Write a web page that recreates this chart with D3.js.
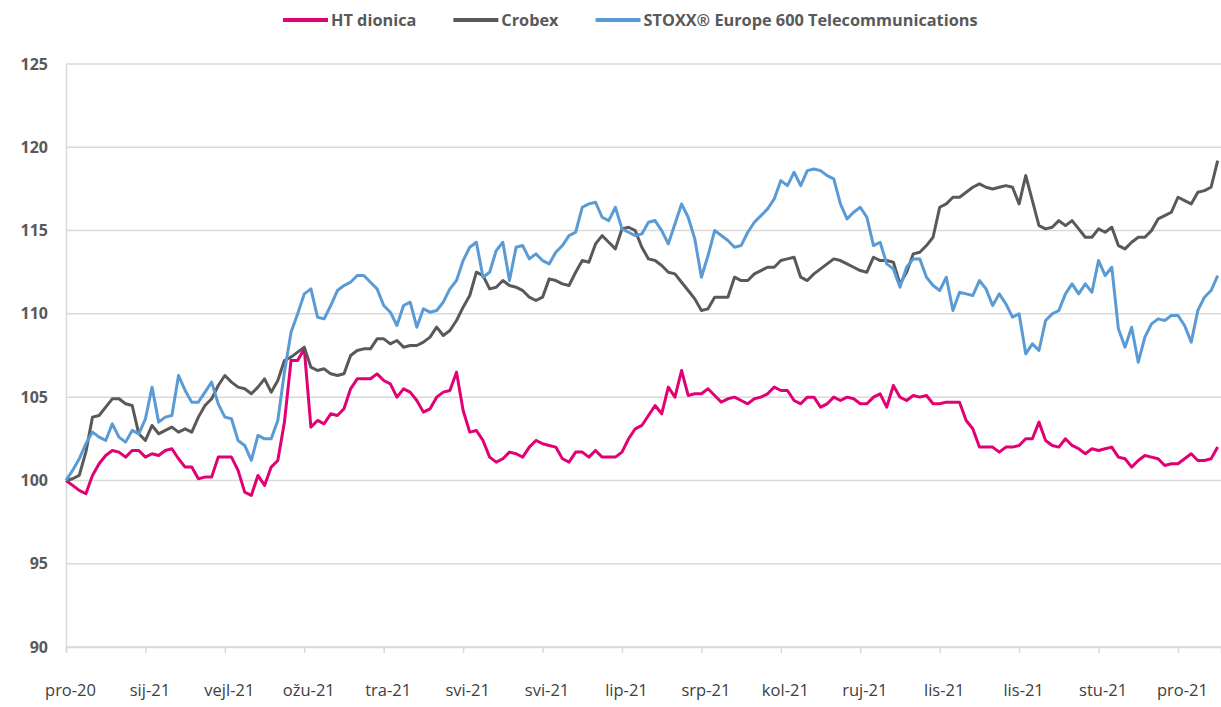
<!DOCTYPE html>
<html>
<head>
<meta charset="utf-8">
<script src="https://cdn.jsdelivr.net/npm/d3@7"></script>
<style>
  body { margin: 0; background: #fff; }
  text { font-family: "Open Sans", "Noto Sans", sans-serif; }
</style>
</head>
<body>
<svg id="chart"></svg>
<script>
// tick labels on the category axis, one every 12 trading points
var monthLabels = ["pro-20", "sij-21", "vejl-21", "ožu-21", "tra-21", "svi-21", "svi-21",
  "lip-21", "srp-21", "kol-21", "ruj-21", "lis-21", "lis-21", "stu-21", "pro-21"];
var yTicks = [90, 95, 100, 105, 110, 115, 120, 125];

var seriesNames = ["HT dionica", "Crobex", "STOXX® Europe 600 Telecommunications"];
var seriesColors = ["#e20074", "#595959", "#5b9bd5"];

var htValues = [
  100.0, 99.7, 99.4, 99.2, 100.3, 101.0, 101.5, 101.8, 101.7, 101.4, 101.8, 101.8, 101.4, 101.6, 101.5,
  101.8, 101.9, 101.3, 100.8, 100.8, 100.1, 100.2, 100.2, 101.4, 101.4, 101.4, 100.6, 99.3, 99.1, 100.3,
  99.7, 100.8, 101.2, 103.5, 107.2, 107.2, 107.9, 103.2, 103.6, 103.4, 104.0, 103.9, 104.3, 105.5, 106.1,
  106.1, 106.1, 106.4, 106.0, 105.8, 105.0, 105.5, 105.3, 104.8, 104.1, 104.3, 105.0, 105.3, 105.4, 106.5,
  104.2, 102.9, 103.0, 102.4, 101.4, 101.1, 101.3, 101.7, 101.6, 101.4, 102.0, 102.4, 102.2, 102.1, 102.0,
  101.3, 101.1, 101.7, 101.7, 101.4, 101.8, 101.4, 101.4, 101.4, 101.7, 102.5, 103.1, 103.3, 103.9,
  104.5, 104.0, 105.6, 105.0, 106.6, 105.1, 105.2, 105.2, 105.5, 105.1, 104.7, 104.9, 105.0, 104.8, 104.6,
  104.9, 105.0, 105.2, 105.6, 105.4, 105.4, 104.8, 104.6, 105.0, 105.0, 104.4, 104.6, 105.0, 104.8, 105.0,
  104.9, 104.6, 104.6, 105.0, 105.2, 104.4, 105.7, 105.0, 104.8, 105.1, 105.0, 105.1, 104.6, 104.6,
  104.7, 104.7, 104.7, 103.6, 103.1, 102.0, 102.0, 102.0, 101.7, 102.0, 102.0, 102.1, 102.5, 102.5, 103.5,
  102.4, 102.1, 102.0, 102.5, 102.1, 101.9, 101.6, 101.9, 101.8, 101.9, 102.0, 101.4, 101.3, 100.8, 101.2,
  101.5, 101.4, 101.3, 100.9, 101.0, 101.0, 101.3, 101.6, 101.2, 101.2, 101.3, 102.0
];

var crobexValues = [
  100.0, 100.1, 100.3, 101.7, 103.8, 103.9, 104.4, 104.9, 104.9, 104.6, 104.5, 102.8, 102.4, 103.3, 102.8,
  103.0, 103.2, 102.9, 103.1, 102.9, 103.8, 104.5, 104.9, 105.7, 106.3, 105.9, 105.6, 105.5, 105.2, 105.6,
  106.1, 105.3, 106.0, 107.2, 107.4, 107.7, 108.0, 106.8, 106.6, 106.7, 106.4, 106.3, 106.4, 107.5, 107.8,
  107.9, 107.9, 108.5, 108.5, 108.2, 108.4, 108.0, 108.1, 108.1, 108.3, 108.6, 109.2, 108.7, 109.0, 109.6,
  110.4, 111.1, 112.5, 112.3, 111.5, 111.6, 112.0, 111.7, 111.6, 111.4, 111.0, 110.8, 111.0, 112.1, 112.0,
  111.8, 111.7, 112.5, 113.2, 113.1, 114.2, 114.7, 114.3, 113.9, 115.1, 115.2, 115.0, 114.0, 113.3,
  113.2, 112.9, 112.5, 112.4, 111.9, 111.4, 110.9, 110.2, 110.3, 111.0, 111.0, 111.0, 112.2, 112.0, 112.0,
  112.4, 112.6, 112.8, 112.8, 113.2, 113.3, 113.4, 112.2, 112.0, 112.4, 112.7, 113.0, 113.3, 113.2, 113.0,
  112.8, 112.6, 112.5, 113.4, 113.2, 113.2, 113.1, 111.8, 112.5, 113.6, 113.7, 114.1, 114.6, 116.4,
  116.6, 117.0, 117.0, 117.3, 117.6, 117.8, 117.6, 117.5, 117.6, 117.7, 117.6, 116.6, 118.3, 116.8, 115.3,
  115.1, 115.2, 115.6, 115.3, 115.6, 115.1, 114.6, 114.6, 115.1, 114.9, 115.2, 114.1, 113.9, 114.3, 114.6,
  114.6, 115.0, 115.7, 115.9, 116.1, 117.0, 116.8, 116.6, 117.3, 117.4, 117.6, 119.2
];

var stoxxValues = [
  100.0, 100.6, 101.3, 102.2, 102.9, 102.6, 102.4, 103.4, 102.6, 102.3, 103.0, 102.8, 103.7, 105.6, 103.5,
  103.8, 103.9, 106.3, 105.4, 104.7, 104.7, 105.3, 105.9, 104.6, 103.8, 103.7, 102.4, 102.1, 101.2, 102.7,
  102.5, 102.5, 103.6, 106.5, 108.9, 110.0, 111.2, 111.5, 109.8, 109.7, 110.5, 111.4, 111.7, 111.9, 112.3,
  112.3, 111.9, 111.5, 110.5, 110.1, 109.3, 110.5, 110.7, 109.2, 110.3, 110.1, 110.2, 110.7, 111.5, 112.0,
  113.2, 114.0, 114.3, 112.2, 112.5, 113.8, 114.3, 112.0, 114.0, 114.1, 113.3, 113.6, 113.2, 113.0, 113.7,
  114.1, 114.7, 114.9, 116.4, 116.6, 116.7, 115.8, 115.6, 116.4, 115.1, 114.9, 114.7, 114.8, 115.5,
  115.6, 115.0, 114.2, 115.4, 116.6, 115.8, 114.5, 112.2, 113.5, 115.0, 114.7, 114.4, 114.0, 114.1, 114.9,
  115.5, 115.9, 116.3, 116.9, 118.0, 117.7, 118.5, 117.7, 118.6, 118.7, 118.6, 118.3, 118.1, 116.6, 115.7,
  116.1, 116.4, 115.8, 114.1, 114.3, 113.0, 112.7, 111.6, 112.8, 113.3, 113.3, 112.2, 111.7, 111.4,
  112.2, 110.2, 111.3, 111.2, 111.1, 112.0, 111.5, 110.5, 111.2, 110.6, 109.8, 110.0, 107.6, 108.2, 107.8,
  109.6, 110.0, 110.2, 111.2, 111.8, 111.2, 111.8, 111.3, 113.2, 112.3, 112.8, 109.1, 108.0, 109.2, 107.1,
  108.6, 109.4, 109.7, 109.6, 109.9, 109.9, 109.3, 108.3, 110.2, 111.0, 111.4, 112.3
];

var width = 1221;
var height = 707;
var padding = { top: 64, right: 0, bottom: 60, left: 66 };
var tickEvery = 12;
var gridColor = "#d9d9d9";
var textColor = "#595959";

var svg = d3.select("#chart")
            .attr("width", width)
            .attr("height", height);

var xScale = d3.scaleLinear()
               .domain([0, 174.5])
               .range([padding.left, width - padding.right]);

var yScale = d3.scaleLinear()
               .domain([90, 125])
               .range([height - padding.bottom, padding.top]);

// horizontal gridlines
svg.append("g")
   .selectAll("line")
   .data(yTicks)
   .enter()
   .append("line")
     .attr("x1", padding.left)
     .attr("x2", width - padding.right)
     .attr("y1", d => yScale(d))
     .attr("y2", d => yScale(d))
     .attr("stroke", gridColor)
     .attr("stroke-width", 1.5);

// y axis: grey line plus bold labels
var yAxis = d3.axisLeft(yScale)
              .tickValues(yTicks)
              .tickSize(0)
              .tickPadding(18);

var yG = svg.append("g")
            .attr("transform", "translate(" + padding.left + ",0)")
            .call(yAxis);
yG.select(".domain").attr("stroke", gridColor).attr("stroke-width", 1.5);
yG.selectAll("text")
  .attr("fill", textColor)
  .style("font-size", "16px")
  .style("font-weight", "bold")
  .style("font-family", "'Open Sans', sans-serif");

// x axis with month labels
var tickIdx = monthLabels.map((d, i) => i * tickEvery);
var xAxis = d3.axisBottom(xScale)
              .tickValues(tickIdx)
              .tickSize(6)
              .tickPadding(31)
              .tickFormat((d, i) => monthLabels[i]);

var xG = svg.append("g")
            .attr("transform", "translate(0," + (height - padding.bottom) + ")")
            .call(xAxis);
xG.select(".domain").attr("stroke", gridColor).attr("stroke-width", 1.5);
xG.selectAll(".tick line").attr("stroke", gridColor).attr("stroke-width", 1.5);
xG.selectAll("text")
  .attr("fill", "#404040")
  .attr("dx", 4)
  .style("font-size", "16.5px")
  .style("font-family", "'Open Sans', sans-serif");

// lines
var allSeries = [htValues, crobexValues, stoxxValues];
var line = d3.line()
             .x((d, i) => xScale(i))
             .y(d => yScale(d));

// draw order: pink, grey, blue on top
svg.append("g")
   .selectAll("path")
   .data(allSeries)
   .enter()
   .append("path")
     .attr("d", d => line(d))
     .attr("fill", "none")
     .attr("stroke", (d, i) => seriesColors[i])
     .attr("stroke-width", 3)
     .attr("stroke-linejoin", "round");

// legend across the top
var legend = svg.append("g").attr("transform", "translate(283,20)");
var lx = 0;
seriesNames.forEach(function(name, i) {
  var item = legend.append("g").attr("transform", "translate(" + lx + ",0)");
  item.append("line")
      .attr("x1", 0).attr("x2", 45)
      .attr("stroke", seriesColors[i])
      .attr("stroke-width", 4);
  var t = item.append("text")
      .attr("x", 48)
      .attr("dy", "0.35em")
      .attr("fill", textColor)
      .style("font-size", "16.3px")
      .style("font-weight", "bold")
      .text(name);
  lx += 48 + t.node().getComputedTextLength() + 37;
});
</script>
</body>
</html>
